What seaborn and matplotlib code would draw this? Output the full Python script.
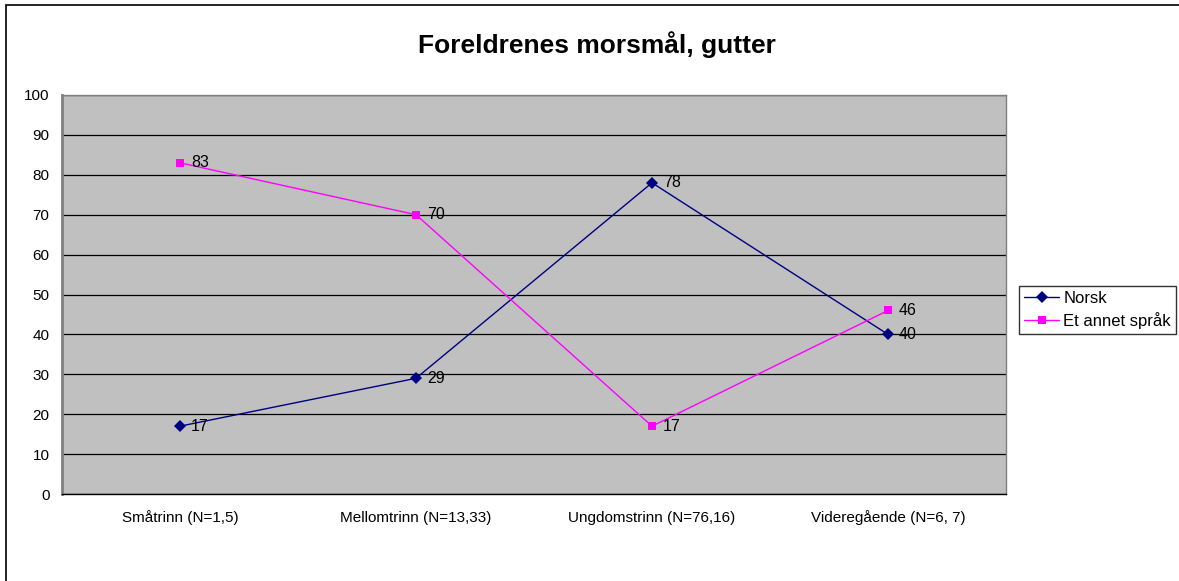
import matplotlib
matplotlib.use("Agg")
import matplotlib.pyplot as plt
import seaborn as sns
import pandas as pd
from matplotlib.patches import Rectangle
from matplotlib.ticker import FixedLocator

# Data
categories = ["Småtrinn (N=1,5)", "Mellomtrinn (N=13,33)",
              "Ungdomstrinn (N=76,16)", "Videregående (N=6, 7)"]
norsk = [17, 29, 78, 40]
annet = [83, 70, 17, 46]
series_names = ["Norsk", "Et annet språk"]
colors = ["#000080", "#FF00FF"]
markers = ["D", "s"]

df = pd.DataFrame({
    "trinn": categories * 2,
    "verdi": norsk + annet,
    "serie": [series_names[0]] * 4 + [series_names[1]] * 4,
})

sns.set_style("white")
plt.rcParams["font.family"] = ["Liberation Sans", "DejaVu Sans"]
plt.rcParams["text.color"] = "black"
plt.rcParams["xtick.color"] = "black"
plt.rcParams["ytick.color"] = "black"

fig = plt.figure(figsize=(11.79, 5.81), dpi=100)
ax = fig.add_axes([62 / 1179, 1 - 494 / 581, 944 / 1179, 399 / 581])
ax.set_facecolor("#C0C0C0")

sns.lineplot(data=df, x="trinn", y="verdi", hue="serie", style="serie",
             palette=colors, markers=markers, dashes=False, sort=False,
             linewidth=1, markersize=6, markeredgewidth=0, ax=ax, zorder=3)

for vals, col in zip([norsk, annet], colors):
    for i, v in enumerate(vals):
        ax.annotate(str(v), (i, v), xytext=(8, 0), textcoords="offset points",
                    va="center", ha="left", fontsize=11.5, color="black", zorder=4)

ax.set_xlim(-0.5, len(categories) - 0.5)
ax.set_ylim(0, 100)
ax.set_yticks(range(0, 101, 10))
ax.yaxis.grid(True, color="black", linewidth=0.9)
ax.set_axisbelow(True)
ax.xaxis.set_minor_locator(FixedLocator([i - 0.5 for i in range(len(categories) + 1)]))
ax.tick_params(axis="x", which="major", length=0, pad=20, labelsize=11)
ax.tick_params(axis="x", which="minor", length=5, width=1, color="black", direction="out")
ax.tick_params(axis="y", length=5, width=1, color="black", direction="out", labelsize=11, pad=4)
for lbl in ax.get_xticklabels():
    lbl.set_verticalalignment("baseline")
ax.set_xlabel("")
ax.set_ylabel("")

for side in ["top", "right"]:
    ax.spines[side].set_color("#808080")
    ax.spines[side].set_linewidth(1)
ax.spines["left"].set_color("#808080")
ax.spines["left"].set_linewidth(2)
ax.spines["bottom"].set_color("black")
ax.spines["bottom"].set_linewidth(1)

ax.legend_.remove()
handles, labels = ax.get_legend_handles_labels()
leg = fig.legend(handles, labels, loc="center left",
                 bbox_to_anchor=(1019 / 1179, 1 - 310 / 581),
                 frameon=True, fancybox=False, edgecolor="black",
                 fontsize=12, handlelength=2.1, borderpad=0.3,
                 labelspacing=0.35, handletextpad=0.25, borderaxespad=0)
leg.get_frame().set_linewidth(1)

fig.suptitle("Foreldrenes morsmål, gutter", x=597 / 1179, y=1 - 45 / 581,
             va="center", fontsize=19, fontweight="bold", color="black")

fig.patches.append(Rectangle((6 / 1179, -10 / 581), 1200 / 1179, 586 / 581,
                             transform=fig.transFigure, fill=False,
                             edgecolor="black", linewidth=1.2))

fig.savefig("out.png", dpi=100)
plt.close()
